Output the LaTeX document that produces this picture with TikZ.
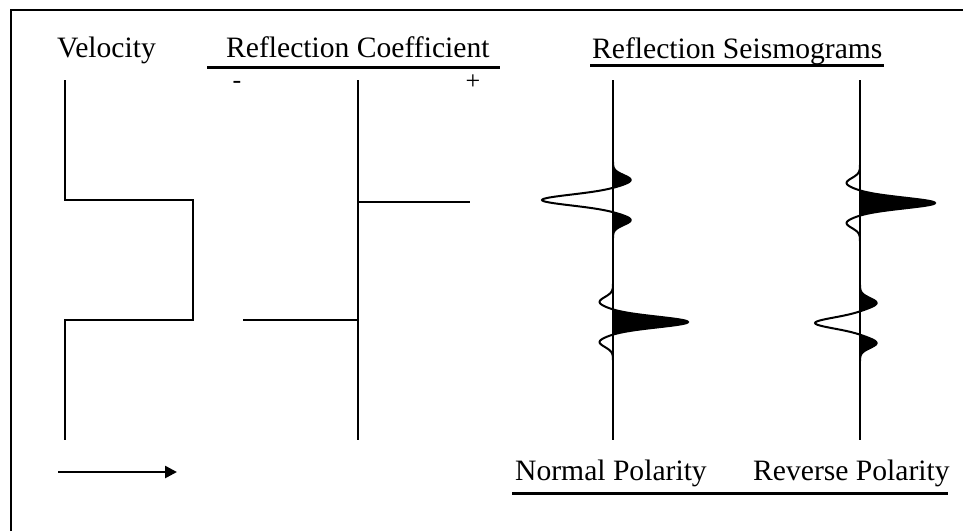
\documentclass[tikz,border=0pt]{standalone}
\usepackage{fontspec}
\setmainfont{Liberation Serif}
\usetikzlibrary{arrows.meta}

\begin{document}
\begin{tikzpicture}[x=1pt, y=-1pt,
  lbl/.style={anchor=base west, inner sep=0pt, font=\fontsize{29.6pt}{34pt}\selectfont},
  sgn/.style={inner sep=0pt, font=\fontsize{26pt}{30pt}\selectfont},
  trace/.style={line width=2.6pt},
  rule/.style={line width=3pt}]
  \useasboundingbox (0,0) rectangle (965,531);
  % frame (top and left edge only)
  \draw[line width=2.8pt] (11,531) -- (11,10) -- (963,10);
  % headings
  \node[lbl] (vel) at (57,57) {Velocity};
  \node[lbl] (rc) at (226,57) {Reflection Coefficient};
  \node[lbl] (rs) at (592,58) {Reflection Seismograms};
  \draw[rule] (207,67) -- (500,67);
  \draw[rule] (590,65) -- (884,65);
  \node[sgn] (minus) at (237,85) {-};
  \node[sgn] (plus) at (473,82) {+};
  % velocity log
  \draw[trace] (65,80) -- (65,200) -- (193,200) -- (193,320) -- (65,320) -- (65,440);
  \coordinate (arrS) at (58,472);
  \coordinate (arrE) at (177,472);
  \draw[trace, -{Triangle[length=12pt,width=12pt]}] (arrS) -- (arrE);
  % reflection coefficients
  \draw[trace] (358,80) -- (358,440);
  \draw[trace] (358,202) -- (470,202);
  \draw[trace] (243,320) -- (358,320);
  % seismogram traces
  \draw[trace] (613,80) -- (613,440);
  \draw[trace] (860,80) -- (860,440);
  \foreach \xa/\yc/\A/\k in {613/200/-71/0.25, 613/322/75/0.18,
                             860/203/75/0.18, 860/323/-45/0.37}{
    \begin{scope}
      \clip (\xa,\yc-40) rectangle (\xa+100,\yc+40);
      \fill plot[domain=-38:38, samples=121, variable=\t]
        ({\xa+\A*(exp(0-(\t/7.5)^2)-\k*(exp(0-((\t-20)/7)^2)+exp(0-((\t+20)/7)^2)))},{\yc+\t}) -- cycle;
    \end{scope}
    \draw[line width=2pt] plot[smooth, domain=-38:38, samples=121, variable=\t]
      ({\xa+\A*(exp(0-(\t/7.5)^2)-\k*(exp(0-((\t-20)/7)^2)+exp(0-((\t+20)/7)^2)))},{\yc+\t});
  }
  % polarity labels
  \node[lbl] (np) at (515,480) {Normal Polarity};
  \node[lbl] (rp) at (753,480) {Reverse Polarity};
  \draw[rule] (512,493) -- (948,493);
\end{tikzpicture}
\end{document}
